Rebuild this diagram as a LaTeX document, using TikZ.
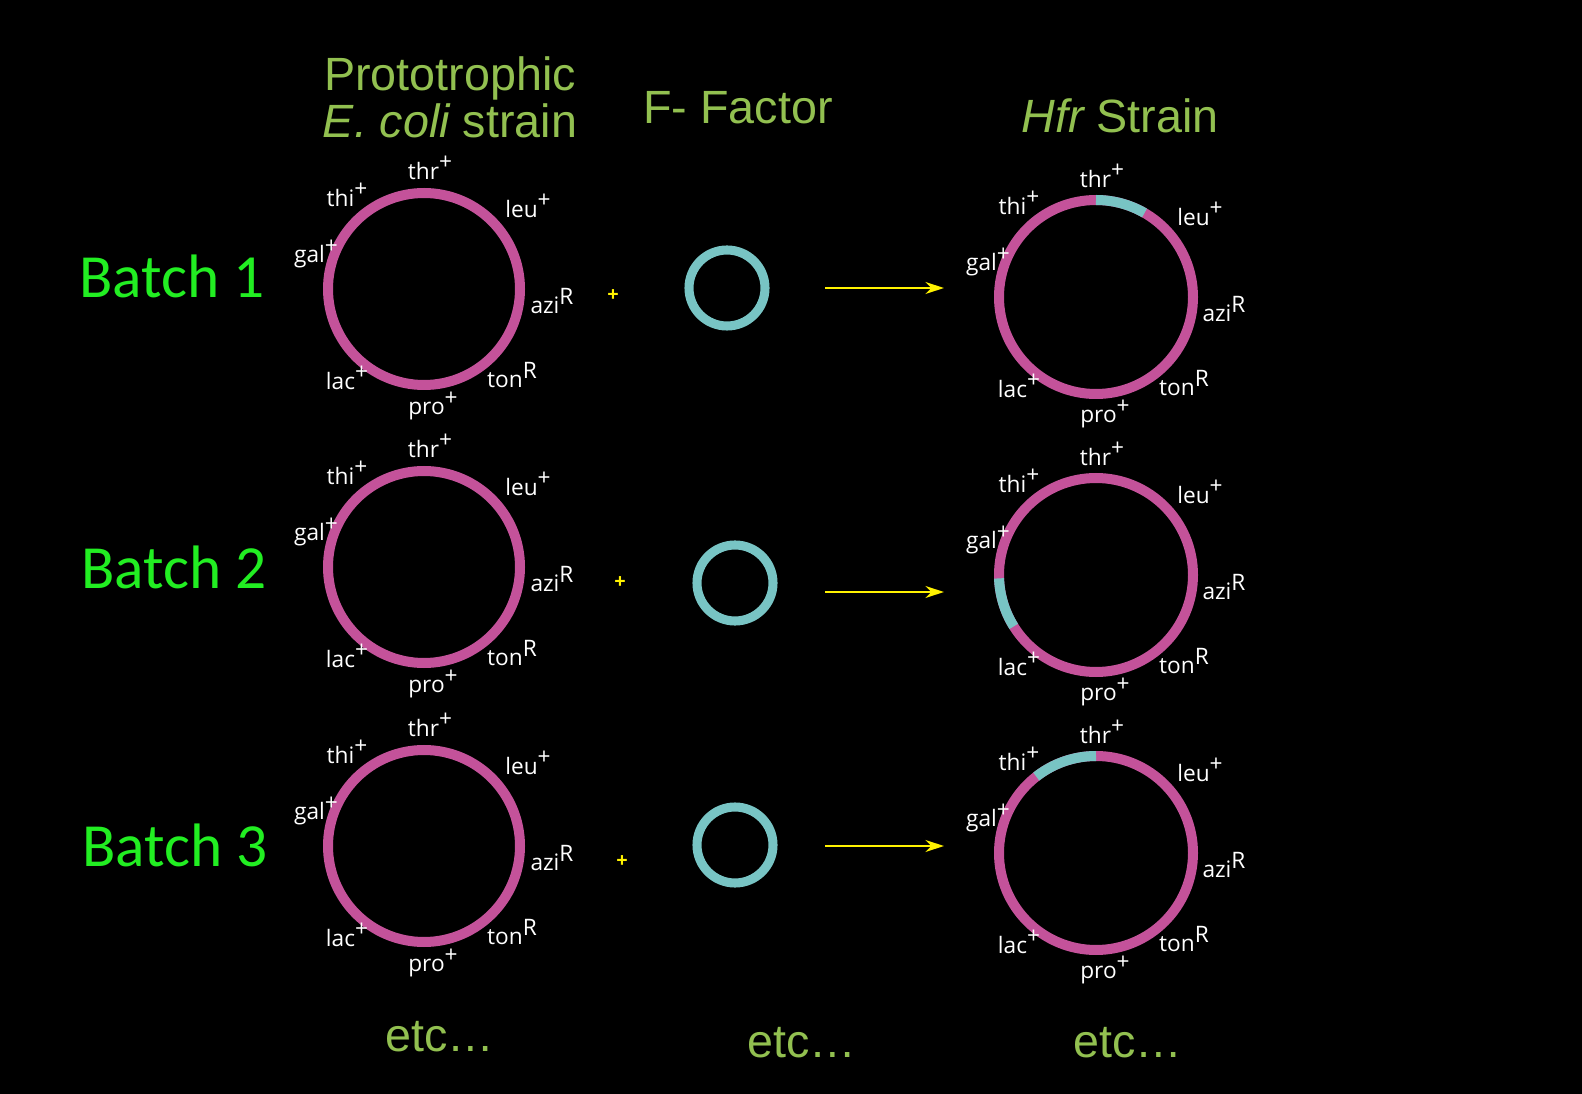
\documentclass[tikz,border=0pt]{standalone}
\usepackage{fontspec}
\usetikzlibrary{arrows.meta}
\setmainfont{Open Sans}
\newfontfamily\hdr{Liberation Sans}
\newfontfamily\bat{Carlito}
\definecolor{mag}{HTML}{C4529A}
\definecolor{cy}{HTML}{78C4C4}
\definecolor{ol}{HTML}{92C050}
\definecolor{bg}{HTML}{22EE22}
\definecolor{yl}{HTML}{FFF200}
\newcommand{\sups}[1]{\raisebox{0.8ex}{\fontsize{17}{17}\selectfont #1}}
\begin{document}
\begin{tikzpicture}[x=0.75pt,y=-0.75pt,
  gene/.style={text=white,font=\fontsize{17}{18}\selectfont,inner sep=0pt},
  hd/.style={text=ol,font=\hdr\fontsize{35}{37}\selectfont,inner sep=0pt},
  bt/.style={text=bg,font=\bat\fontsize{46}{48}\selectfont,inner sep=0pt},
  chrom/.style={draw=mag,line width=7.5pt},
  plas/.style={draw=cy,line width=6.8pt},
  arr/.style={draw=yl,line width=1.5pt,-{Stealth[length=14pt,width=9pt]}},
  pl/.style={text=yl,font=\bfseries\fontsize{15}{15}\selectfont,inner sep=0pt}]
\fill[black] (0,0) rectangle (1582,1094);
\useasboundingbox (0,0) rectangle (1582,1094);
\newcommand{\genes}[3]{%
 \begin{scope}[shift={(#1,#2)}]
 \node[gene] (#3thr) at (6,-121) {thr\sups{+}};
 \node[gene] (#3thi) at (-77,-94) {thi\sups{+}};
 \node[gene] (#3leu) at (104,-83) {leu\sups{+}};
 \node[gene] (#3gal) at (-108,-35) {gal\sups{+}};
 \node[gene] (#3azi) at (128,12) {azi\sups{R}};
 \node[gene] (#3lac) at (-77,89) {lac\sups{+}};
 \node[gene] (#3ton) at (88,86) {ton\sups{R}};
 \node[gene] (#3pro) at (9,117) {pro\sups{+}};
 \end{scope}}
\node[hd] (h1) at (450,78) {Prototrophic};
\node[hd] (h2) at (450,121) {\itshape E. coli\upshape{} strain};
\node[hd] (h3) at (738,108) {F- Factor};
\node[hd] (h4) at (1120,116) {\itshape Hfr\upshape{} Strain};
\node[bt] (b1) at (172,276) {Batch 1};
\node[bt] (b2) at (174,567) {Batch 2};
\node[bt] (b3) at (175,845) {Batch 3};
\node[chrom,circle,minimum size=192pt*0.75,inner sep=0pt] (L1) at (424,289) {};
\node[chrom,circle,minimum size=192pt*0.75,inner sep=0pt] (L2) at (424,567) {};
\node[chrom,circle,minimum size=192pt*0.75,inner sep=0pt] (L3) at (424,846) {};
\genes{424}{289}{a}\genes{424}{567}{b}\genes{424}{846}{c}
\node[pl] (p1) at (613,296) {+};
\node[pl] (p2) at (620,583) {+};
\node[pl] (p3) at (622,862) {+};
\node[plas,circle,minimum size=76pt*0.75,inner sep=0pt] (F1) at (727,288) {};
\node[plas,circle,minimum size=76pt*0.75,inner sep=0pt] (F2) at (735,583) {};
\node[plas,circle,minimum size=76pt*0.75,inner sep=0pt] (F3) at (735,845) {};
\coordinate (s1) at (825,288); \coordinate (e1) at (944,288);
\coordinate (s2) at (825,592); \coordinate (e2) at (944,592);
\coordinate (s3) at (825,846); \coordinate (e3) at (944,846);
\draw[arr] (s1) -- (e1);
\draw[arr] (s2) -- (e2);
\draw[arr] (s3) -- (e3);
\node[chrom,circle,minimum size=194pt*0.75,inner sep=0pt] (R1) at (1096,297) {};
\node[chrom,circle,minimum size=194pt*0.75,inner sep=0pt] (R2) at (1096,575) {};
\node[chrom,circle,minimum size=194pt*0.75,inner sep=0pt] (R3) at (1096,853) {};
\draw[draw=cy,line width=7.5pt] (R1.center) ++(-90:97) arc[start angle=-90,end angle=-60,radius=97];
\draw[draw=cy,line width=7.5pt] (R2.center) ++(-182:97) arc[start angle=-182,end angle=-212,radius=97];
\draw[draw=cy,line width=7.5pt] (R3.center) ++(-90:97) arc[start angle=-90,end angle=-128,radius=97];
\genes{1096}{297}{d}\genes{1096}{575}{e}\genes{1096}{853}{f}
\node[hd] (t1) at (440,1037) {etc\ldots};
\node[hd] (t2) at (802,1043) {etc\ldots};
\node[hd] (t3) at (1128,1043) {etc\ldots};
\end{tikzpicture}
\end{document}
